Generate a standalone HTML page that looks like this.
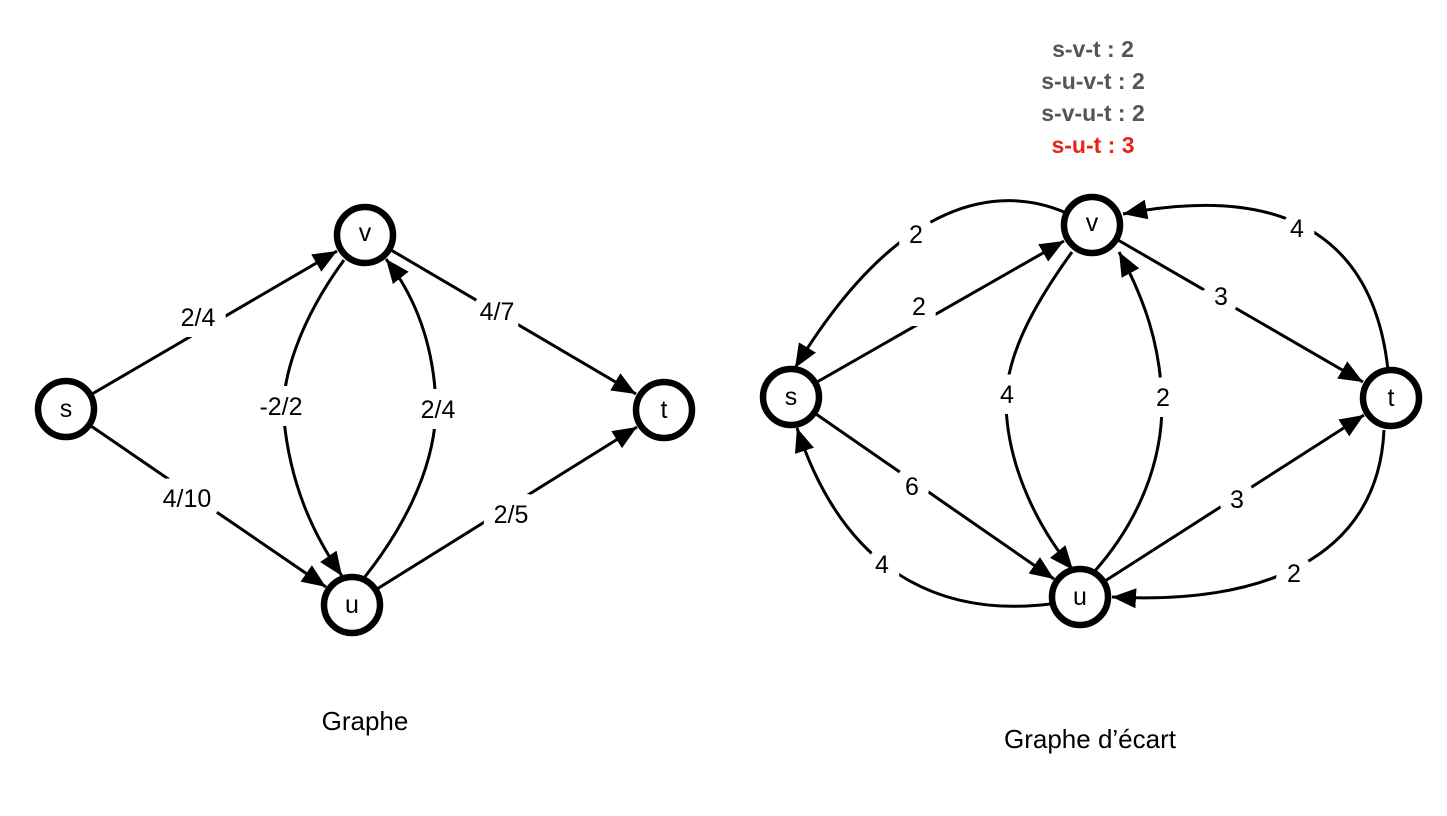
<!DOCTYPE html>
<html><head><meta charset="utf-8"><style>
html,body{margin:0;padding:0;background:#fff;}
svg{display:block;}
text{font-family:"Liberation Sans",sans-serif;}
.lbl{font-size:25px;fill:#000;stroke:#fff;stroke-width:22px;paint-order:stroke;text-anchor:middle;dominant-baseline:central;}
.n{font-size:25px;text-anchor:middle;dominant-baseline:central;}
.e{fill:none;stroke:#000;stroke-width:3;marker-end:url(#a);}
circle{fill:#fff;stroke:#000;stroke-width:6.5;}
.top{font-size:23px;font-weight:bold;text-anchor:middle;fill:#555;}
</style></head><body>
<svg width="1447" height="816" viewBox="0 0 1447 816">
<defs><marker id="a" markerUnits="userSpaceOnUse" markerWidth="26" markerHeight="20" refX="24" refY="10" orient="auto"><path d="M0,0 L24,10 L0,20 z" fill="#000"/></marker></defs>
<!-- left graph -->
<line class="e" x1="92" y1="394" x2="337" y2="251"/>
<line class="e" x1="91" y1="426" x2="326" y2="587"/>
<line class="e" x1="391" y1="250" x2="636" y2="394"/>
<line class="e" x1="377" y1="589" x2="637" y2="427"/>
<path class="e" d="M344,260 C300,320 280,380 284,420 C290,480 310,530 342,576"/>
<path class="e" d="M364,578 C410,520 436,460 436,405 C434,350 418,300 386,259"/>
<text class="lbl" x="198" y="318">2/4</text>
<text class="lbl" x="187" y="499">4/10</text>
<text class="lbl" x="281" y="407">-2/2</text>
<text class="lbl" x="438" y="410">2/4</text>
<text class="lbl" x="497" y="312">4/7</text>
<text class="lbl" x="511" y="515">2/5</text>
<circle cx="66" cy="409" r="28"/><text class="n" x="66" y="409">s</text>
<circle cx="365" cy="235" r="28"/><text class="n" x="365" y="233">v</text>
<circle cx="352" cy="605" r="28"/><text class="n" x="352" y="605">u</text>
<circle cx="664" cy="410" r="28"/><text class="n" x="664" y="410">t</text>
<text x="365" y="730" style="font-size:26px;text-anchor:middle">Graphe</text>
<!-- right graph -->
<line class="e" x1="817" y1="382" x2="1064" y2="241"/>
<line class="e" x1="1118" y1="240" x2="1363" y2="382"/>
<line class="e" x1="816" y1="414" x2="1054" y2="579"/>
<line class="e" x1="1105" y1="581" x2="1364" y2="415"/>
<path class="e" d="M1064,212 C1000,185 900,195 795,368"/>
<path class="e" d="M1388,370 C1375,250 1300,180 1123,214"/>
<path class="e" d="M1050,604 C960,615 850,590 797,428"/>
<path class="e" d="M1384,430 C1378,560 1260,605 1112,597"/>
<path class="e" d="M1072,252 C1030,310 1005,360 1006,405 C1008,470 1040,530 1073,570"/>
<path class="e" d="M1094,572 C1140,520 1163,460 1162,400 C1160,345 1145,300 1119,252"/>
<text class="lbl" x="916" y="235">2</text>
<text class="lbl" x="919" y="307">2</text>
<text class="lbl" x="1007" y="395">4</text>
<text class="lbl" x="1163" y="398">2</text>
<text class="lbl" x="1221" y="297">3</text>
<text class="lbl" x="1297" y="229">4</text>
<text class="lbl" x="912" y="487">6</text>
<text class="lbl" x="1237" y="500">3</text>
<text class="lbl" x="882" y="565">4</text>
<text class="lbl" x="1294" y="574">2</text>
<circle cx="791" cy="397" r="28"/><text class="n" x="791" y="397">s</text>
<circle cx="1092" cy="225" r="28"/><text class="n" x="1092" y="223">v</text>
<circle cx="1080" cy="597" r="28"/><text class="n" x="1080" y="597">u</text>
<circle cx="1391" cy="398" r="28"/><text class="n" x="1391" y="398">t</text>
<text x="1090" y="748" style="font-size:26px;text-anchor:middle">Graphe d’écart</text>
<text class="top" x="1093" y="57">s-v-t : 2</text>
<text class="top" x="1093" y="89">s-u-v-t : 2</text>
<text class="top" x="1093" y="121">s-v-u-t : 2</text>
<text class="top" x="1093" y="153" style="fill:#e8231a">s-u-t : 3</text>
</svg>
</body></html>
